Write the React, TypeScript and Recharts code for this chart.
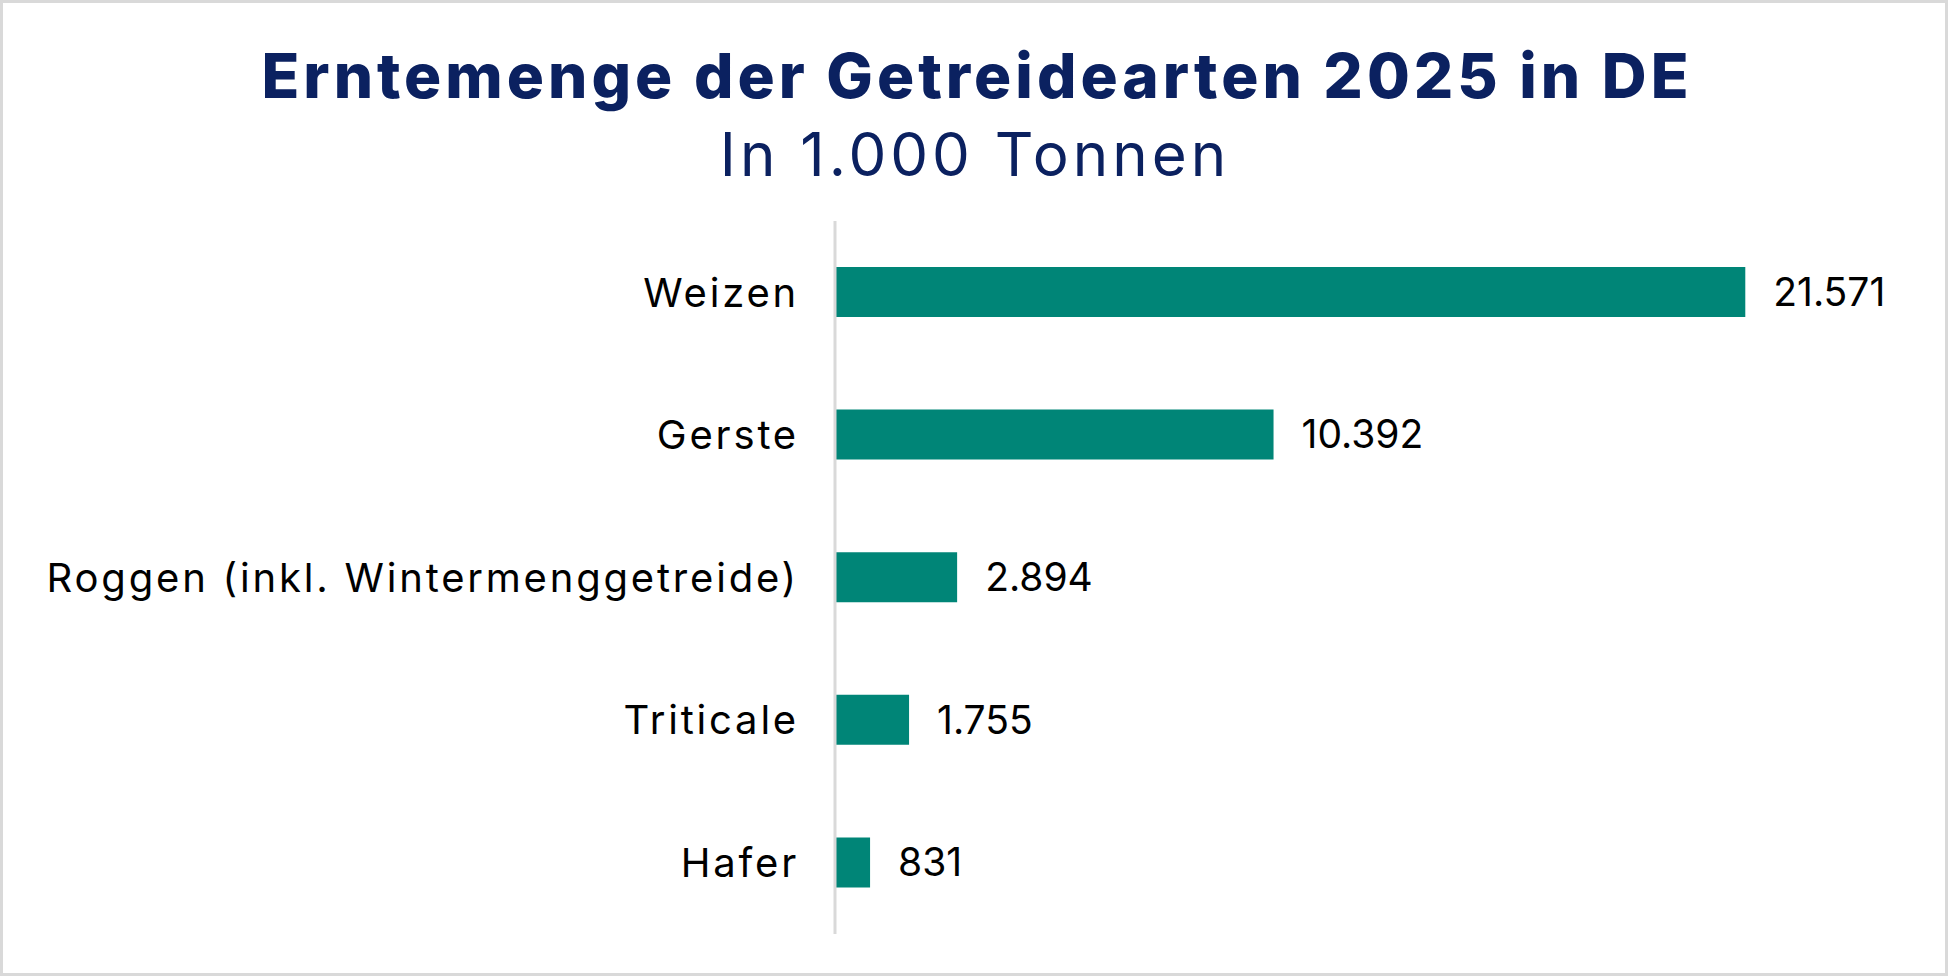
import { BarChart, Bar, XAxis, YAxis, LabelList } from 'recharts'

const categories = ['Weizen', 'Gerste', 'Roggen (inkl. Wintermenggetreide)', 'Triticale', 'Hafer']
const harvest = [21571, 10392, 2894, 1755, 831]

const data = categories.map((name, i) => ({ name, value: harvest[i] }))

const FONT = 'Inter, "DejaVu Sans", sans-serif'
const NAVY = '#0b2160'

export default function App() {
  return (
    <div style={{ position: 'absolute', left: 0, top: 0, width: 1948, height: 976, background: '#fff' }}>
      <svg width={1948} height={200} style={{ position: 'absolute', left: 0, top: 0 }}>
        <text
          x={977}
          y={98}
          textAnchor="middle"
          fontFamily={FONT}
          fontWeight={800}
          fontSize={62}
          letterSpacing={4}
          fill={NAVY}
        >
          Erntemenge der Getreidearten 2025 in DE
        </text>
        <text
          x={975}
          y={176}
          textAnchor="middle"
          fontFamily={FONT}
          fontWeight={400}
          fontSize={60}
          letterSpacing={4}
          fill={NAVY}
        >
          In 1.000 Tonnen
        </text>
      </svg>
      <div style={{ position: 'absolute', left: 0, top: 0 }}>
        <BarChart
          width={1948}
          height={976}
          data={data}
          layout="vertical"
          margin={{ top: 221, right: 58, bottom: 42, left: 0 }}
        >
          <XAxis type="number" domain={[0, 25000]} hide />
          <YAxis
            type="category"
            dataKey="name"
            width={835}
            axisLine={{ stroke: '#d9d9d9', strokeWidth: 3 }}
            tickLine={false}
            tickSize={0}
            tickMargin={36}
            tick={{ fill: '#000', fontSize: 40, fontFamily: FONT, letterSpacing: 2.8 }}
            interval={0}
          />
          <Bar dataKey="value" fill="#008577" barSize={50} isAnimationActive={false}>
            <LabelList
              dataKey="value"
              position="right"
              offset={28}
              fill="#000"
              fontSize={39}
              fontFamily={FONT}
              formatter={(v: number) => v.toLocaleString('de-DE')}
            />
          </Bar>
        </BarChart>
      </div>
      <div
        style={{
          position: 'absolute',
          inset: 0,
          border: '3px solid #d9d9d9',
          boxSizing: 'border-box',
          pointerEvents: 'none',
        }}
      />
    </div>
  )
}
